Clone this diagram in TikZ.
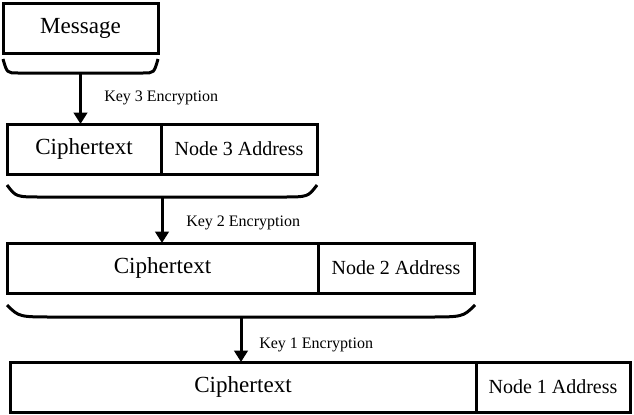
\documentclass[tikz,border=0pt]{standalone}
\usepackage{fontspec}
\setmainfont{Liberation Serif}
\usetikzlibrary{arrows.meta,positioning}

\begin{document}
\begin{tikzpicture}[x=0.75pt,y=-0.75pt,
  cell/.style={draw, line width=2.25pt, rectangle, minimum height=37.5pt, inner sep=0pt, outer sep=0pt, font=\fontsize{17.3pt}{20pt}\selectfont},
  addr/.style={cell, font=\fontsize{15pt}{18pt}\selectfont},
  keylabel/.style={anchor=west, inner sep=0pt, font=\fontsize{12pt}{14pt}\selectfont},
  brace/.style={line width=2.25pt},
  arr/.style={line width=2.25pt, -{Triangle[width=10pt,length=8.5pt]}}]
  \useasboundingbox (0,0) rectangle (634,414);
  % message
  \node[cell, anchor=north west, minimum width=116.25pt] (msg) at (3,3) {Message};
  \draw[brace] (3,59) .. controls (7,73) .. (18,73) -- (143,73) .. controls (154,73) .. (158,59);
  \coordinate (b3) at (80.5,73);
  % key 3
  \node[cell, anchor=north west, minimum width=115.5pt] (cipher3) at (7,124) {Ciphertext};
  \node[addr, right=0pt of cipher3, minimum width=117pt] (addr3) {Node 3 Address};
  \draw[arr] (b3) -- (b3 |- cipher3.north);
  \node[keylabel] (key3) at (104,98) {Key 3 Encryption};
  \draw[brace] (7,185) .. controls (16,197) .. (42,197) -- (282,197) .. controls (308,197) .. (317,185);
  \coordinate (b2) at (162,197);
  % key 2
  \node[cell, anchor=north west, minimum width=233.25pt] (cipher2) at (7,243) {Ciphertext};
  \node[addr, right=0pt of cipher2, minimum width=117pt] (addr2) {Node 2 Address};
  \draw[arr] (b2) -- (b2 |- cipher2.north);
  \node[keylabel] (key2) at (186,223) {Key 2 Encryption};
  \draw[brace] (7,305) .. controls (19,317) .. (55,317) -- (427,317) .. controls (463,317) .. (475,305);
  \coordinate (b1) at (241,317);
  % key 1
  \node[cell, anchor=north west, minimum width=349.5pt] (cipher1) at (10,362) {Ciphertext};
  \node[addr, right=0pt of cipher1, minimum width=115.5pt] (addr1) {Node 1 Address};
  \draw[arr] (b1) -- (b1 |- cipher1.north);
  \node[keylabel] (key1) at (259,345) {Key 1 Encryption};
\end{tikzpicture}
\end{document}
